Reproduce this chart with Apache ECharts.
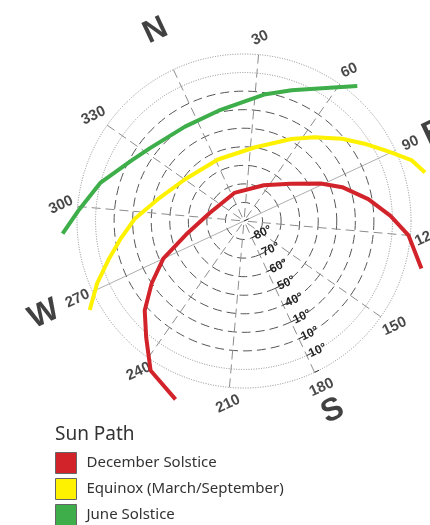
<!DOCTYPE html>
<html>
<head>
    <title>Sun Path</title>
    <script src="https://cdn.jsdelivr.net/npm/echarts@6/dist/echarts.min.js"></script>
    <style>
        html, body { margin: 0; padding: 0; background: #fff; }
    </style>
</head>
<body>
    <div id="main" style="width: 430px;height:525px;"></div>
    <script type="text/javascript">
        // sun path points, azimuth (deg from N, clockwise) and elevation (deg)
        var decemberAz = [226, 237, 245, 253, 261, 270, 283, 308, 6, 54, 76, 89, 96, 105, 113, 120, 130];
        var decemberEl = [-13, -5, 8, 18, 30, 42, 59, 71, 74, 68, 58, 44, 34, 22, 11, 1, -9];
        var equinoxAz = [265, 272, 279, 287, 296, 309, 330, 2, 33, 55, 65, 75, 83, 89, 95, 100];
        var equinoxEl = [-6, 4, 14, 23, 31, 42, 51, 54, 50, 39, 31, 21, 12, 4, -6, -11];
        var juneAz = [291, 299, 310, 323, 333, 353, 12, 34, 45, 60, 65];
        var juneEl = [-8, 1, 10, 21, 26, 30, 29, 21, 15, 2, -5];

        var azTicks = [30, 60, 90, 120, 150, 180, 210, 240, 270, 300, 330];
        var compassNames = ['N', 'E', 'S', 'W'];
        var compassAz = [0, 90, 180, 270];
        var compassEl = [-23, -23, -23, -29];
        var elevTicks = [80, 70, 60, 50, 40, 30, 20, 10];
        var elevLabels = ['80°', '70°', '60°', '50°', '40°', '10°', '10°', '10°'];

        var seriesNames = ['December Solstice', 'Equinox (March/September)', 'June Solstice'];
        var seriesColors = ['#d3232a', '#fff200', '#3dae49'];

        // angle axis runs 180..540 so the elevation scale sits on the south spoke
        function shift(a) { return a < 180 ? a + 360 : a; }
        function pts(az, el) {
            return az.map(function (a, i) { return [el[i], shift(a)]; });
        }

        var center = [244, 221];
        var R = 167;               // horizon ring
        var R2 = R * 120 / 90;     // data polar reaches down to -30 deg
        var clear = 'rgba(0,0,0,0)';
        var rimCol = '#8a8a8a';
        var ringCol = '#555';
        var spokeCol = '#8c8c8c';

        var dashedRings = [];
        var dottedRings = [];
        for (var i = 0; i <= 9; i++) {
            dashedRings.push(i >= 2 ? ringCol : clear);
            dottedRings.push(i < 2 ? rimCol : clear);
        }
        var dashedSpokes = [];
        var solidSpokes = [];
        for (var j = 0; j < 12; j++) {
            var ew = (j === 3 || j === 9);
            dashedSpokes.push(ew ? clear : spokeCol);
            solidSpokes.push(ew ? '#999' : clear);
        }

        function angAxis(idx, split) {
            return {
                polarIndex: idx,
                type: 'value',
                min: 180, max: 540, interval: 30,
                startAngle: 295,
                clockwise: true,
                axisLine: { show: false },
                axisTick: { show: false },
                axisLabel: { show: false },
                splitLine: split
            };
        }

        var myChart = echarts.init(document.getElementById('main'));

        var option = {
            animation: false,
            title: {
                text: 'Sun Path',
                left: 50,
                top: 420,
                textStyle: { fontFamily: 'Noto Sans', fontSize: 19, fontWeight: 'normal', color: '#333' }
            },
            legend: {
                data: seriesNames,
                orient: 'vertical',
                left: 55,
                top: 452,
                padding: 0,
                width: 300,
                height: 120,
                icon: 'rect',
                itemWidth: 21,
                itemHeight: 21,
                itemGap: 4,
                itemStyle: { borderColor: '#666', borderWidth: 1 },
                textStyle: { fontFamily: 'Noto Sans', fontSize: 15, color: '#333', padding: [0, 0, 0, 5] }
            },
            polar: [
                { center: center, radius: R },
                { center: center, radius: R },
                { center: center, radius: R2 }
            ],
            angleAxis: [
                angAxis(0, { show: true, lineStyle: { color: dashedSpokes, width: 1, type: [9, 5] } }),
                angAxis(1, { show: true, lineStyle: { color: solidSpokes, width: 0.8 } }),
                angAxis(2, { show: false })
            ],
            radiusAxis: [{
                polarIndex: 0,
                type: 'value',
                min: 0, max: 90, interval: 10,
                inverse: true,
                axisLine: { show: false },
                axisTick: { show: true, length: 5, lineStyle: { color: '#333' } },
                axisLabel: {
                    show: true,
                    rotate: 25,
                    margin: 3,
                    fontFamily: 'Liberation Sans',
                    fontSize: 12,
                    fontWeight: 'bold',
                    color: '#222',
                    formatter: function (v) {
                        var k = elevTicks.indexOf(v);
                        return k < 0 ? '' : elevLabels[k];
                    }
                },
                splitLine: { show: true, lineStyle: { color: dashedRings, width: 1, type: [9, 5] } }
            }, {
                polarIndex: 1,
                type: 'value',
                min: 0, max: 90, interval: 10,
                inverse: true,
                axisLine: { show: false },
                axisTick: { show: false },
                axisLabel: { show: false },
                splitLine: { show: true, lineStyle: { color: dottedRings, width: 1, type: [1, 1.5] } }
            }, {
                polarIndex: 2,
                type: 'value',
                min: -30, max: 90, interval: 10,
                inverse: true,
                axisLine: { show: false },
                axisTick: { show: false },
                axisLabel: { show: false },
                splitLine: { show: false }
            }],
            series: [
                {
                    name: seriesNames[0], type: 'line', coordinateSystem: 'polar', polarIndex: 2,
                    data: pts(decemberAz, decemberEl), showSymbol: false, clip: false, z: 5,
                    itemStyle: { color: seriesColors[0] },
                    lineStyle: { color: seriesColors[0], width: 4 }
                },
                {
                    name: seriesNames[1], type: 'line', coordinateSystem: 'polar', polarIndex: 2,
                    data: pts(equinoxAz, equinoxEl), showSymbol: false, clip: false, z: 5,
                    itemStyle: { color: seriesColors[1] },
                    lineStyle: { color: seriesColors[1], width: 4 }
                },
                {
                    name: seriesNames[2], type: 'line', coordinateSystem: 'polar', polarIndex: 2,
                    data: pts(juneAz, juneEl), showSymbol: false, clip: false, z: 5,
                    itemStyle: { color: seriesColors[2] },
                    lineStyle: { color: seriesColors[2], width: 4 }
                },
                {
                    type: 'scatter', coordinateSystem: 'polar', polarIndex: 2, silent: true,
                    symbolSize: 1, itemStyle: { color: clear },
                    data: azTicks.map(function (a) { return { value: [-9, shift(a)], name: String(a) }; }),
                    label: {
                        show: true, position: 'inside', rotate: 25,
                        formatter: '{b}',
                        fontFamily: 'Liberation Sans', fontSize: 15, fontWeight: 'bold', color: '#1a1a1a'
                    }
                },
                {
                    type: 'scatter', coordinateSystem: 'polar', polarIndex: 2, silent: true,
                    symbolSize: 1, itemStyle: { color: clear },
                    data: compassAz.map(function (a, k) { return { value: [compassEl[k], shift(a)], name: compassNames[k] }; }),
                    label: {
                        show: true, position: 'inside', rotate: 25,
                        formatter: '{b}',
                        fontFamily: 'Liberation Sans', fontSize: 32, fontWeight: 'bold', color: '#111'
                    }
                }
            ]
        };

        myChart.setOption(option);
    </script>
</body>
</html>
